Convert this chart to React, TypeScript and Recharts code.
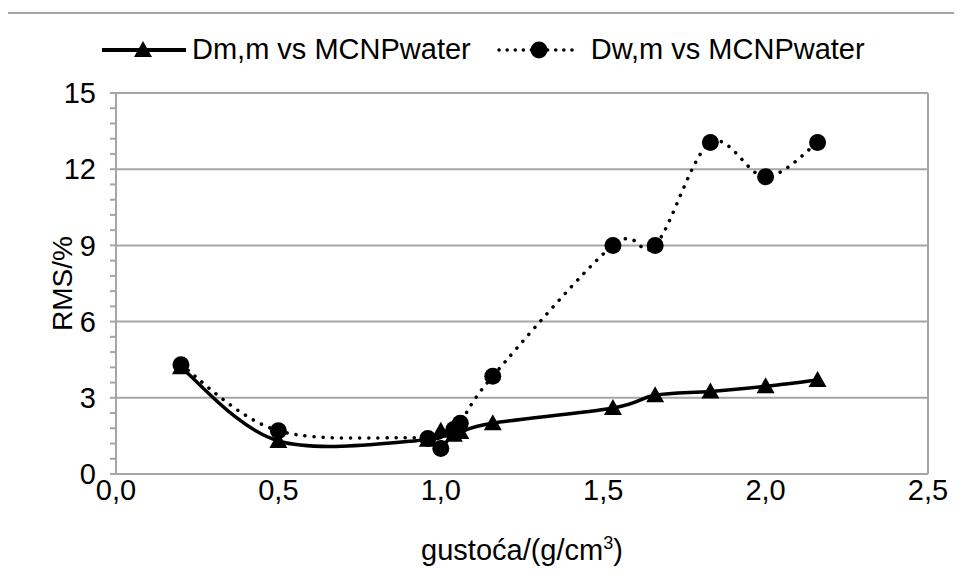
import { LineChart, Line, XAxis, YAxis, ReferenceLine } from 'recharts';

const density = [0.2, 0.5, 0.96, 1.0, 1.04, 1.06, 1.16, 1.53, 1.66, 1.83, 2.0, 2.16];
const dmmRms = [4.2, 1.3, 1.35, 1.7, 1.55, 1.65, 2.0, 2.6, 3.1, 3.25, 3.45, 3.7];
const dwmRms = [4.3, 1.7, 1.4, 1.0, 1.75, 2.0, 3.85, 9.0, 9.0, 13.05, 11.7, 13.05];

const xTicks = [0, 0.5, 1, 1.5, 2, 2.5];
const yTicks = [
  0, 0.6, 1.2, 1.8, 2.4, 3, 3.6, 4.2, 4.8, 5.4, 6, 6.6, 7.2, 7.8, 8.4, 9, 9.6, 10.2, 10.8, 11.4, 12,
  12.6, 13.2, 13.8, 14.4, 15,
];
const yMajor = [0, 3, 6, 9, 12, 15];

const data = density.map((d, i) => ({ d, dmm: dmmRms[i], dwm: dwmRms[i] }));

const FONT = '"Liberation Sans", Arial, sans-serif';
const GRID = '#a6a6a6';

// Excel-like smoothed line (Catmull-Rom through the points)
const excelSmooth = (context: any) => {
  let pts: [number, number][] = [];
  return {
    areaStart() {},
    areaEnd() {},
    lineStart() {
      pts = [];
    },
    point(x: number, y: number) {
      pts.push([+x, +y]);
    },
    lineEnd() {
      if (!pts.length) return;
      context.moveTo(pts[0][0], pts[0][1]);
      for (let i = 0; i < pts.length - 1; i++) {
        const p0 = pts[Math.max(i - 1, 0)];
        const p1 = pts[i];
        const p2 = pts[i + 1];
        const p3 = pts[Math.min(i + 2, pts.length - 1)];
        context.bezierCurveTo(
          p1[0] + (p2[0] - p0[0]) / 6,
          p1[1] + (p2[1] - p0[1]) / 6,
          p2[0] - (p3[0] - p1[0]) / 6,
          p2[1] - (p3[1] - p1[1]) / 6,
          p2[0],
          p2[1]
        );
      }
    },
  };
};

const Triangle = (props: any) => {
  const { cx, cy } = props;
  if (cx == null || cy == null) return null;
  return <path d={`M${cx},${cy - 9} L${cx + 9},${cy + 7} L${cx - 9},${cy + 7} Z`} fill="#000" />;
};

const Circle = (props: any) => {
  const { cx, cy } = props;
  if (cx == null || cy == null) return null;
  return <circle cx={cx} cy={cy} r={8.5} fill="#000" />;
};

const LegendBlock = () => (
  <div
    style={{
      position: 'absolute',
      left: 92,
      top: 25,
      display: 'flex',
      alignItems: 'center',
      fontFamily: FONT,
      fontSize: 29,
      color: '#000',
      whiteSpace: 'nowrap',
    }}
  >
    <svg width={88} height={24}>
      <line x1={2} y1={12} x2={86} y2={12} stroke="#000" strokeWidth={4} />
      <path d="M43,3 L52,19 L34,19 Z" fill="#000" />
    </svg>
    <span style={{ marginLeft: 4 }}>Dm,m vs MCNPwater</span>
    <svg width={88} height={24} style={{ marginLeft: 24 }}>
      <line x1={4} y1={12} x2={84} y2={12} stroke="#000" strokeWidth={3.5} strokeDasharray="0.1 8" strokeLinecap="round" />
      <circle cx={44} cy={12} r={8.5} fill="#000" />
    </svg>
    <span style={{ marginLeft: 8 }}>Dw,m vs MCNPwater</span>
  </div>
);

export default function App() {
  return (
    <div style={{ position: 'relative', width: 954, height: 574 }}>
      <style>{'body{overflow:hidden}'}</style>
      <div
        style={{
          position: 'absolute',
          left: -2,
          top: 4,
          width: 1000,
          height: 700,
          borderTop: `2px solid ${GRID}`,
          borderLeft: `2px solid ${GRID}`,
        }}
      />
      <LineChart
        width={954}
        height={574}
        data={data}
        margin={{ top: 85, right: 34, left: 40, bottom: 28 }}
        style={{ position: 'absolute', left: 0, top: 0 }}
      >
        {yMajor.map((v) => (
          <ReferenceLine key={v} y={v} stroke={GRID} strokeWidth={2} />
        ))}
        <ReferenceLine x={2.5} stroke={GRID} strokeWidth={2} />
        <XAxis
          dataKey="d"
          type="number"
          domain={[0, 2.5]}
          ticks={xTicks}
          tickFormatter={(v: number) => v.toFixed(1).replace('.', ',')}
          tickLine={false}
          tickSize={0}
          axisLine={{ stroke: GRID, strokeWidth: 2 }}
          tick={{ fill: '#000', fontSize: 29, fontFamily: FONT }}
          tickMargin={5}
          height={80}
          interval={0}
          label={{
            content: ({ viewBox }: any) => (
              <text
                x={viewBox.x + viewBox.width / 2}
                y={viewBox.y + 86}
                textAnchor="middle"
                fontFamily={FONT}
                fontSize={29}
                fill="#000"
              >
                gustoća/(g/cm<tspan fontSize={18} dy={-11}>3</tspan>
                <tspan dy={11}>)</tspan>
              </text>
            ),
          }}
        />
        <YAxis
          type="number"
          domain={[0, 15]}
          ticks={yTicks}
          interval={0}
          width={68}
          tickSize={6}
          tickMargin={14}
          tickLine={{ stroke: GRID, strokeWidth: 2 }}
          axisLine={{ stroke: GRID, strokeWidth: 2 }}
          tickFormatter={(v: number) => (yMajor.includes(v) ? String(v) : '')}
          tick={{ fill: '#000', fontSize: 29, fontFamily: FONT }}
          label={{
            content: ({ viewBox }: any) => (
              <text
                x={viewBox.x + 14}
                y={viewBox.y + viewBox.height / 2}
                textAnchor="middle"
                dominantBaseline="central"
                transform={`rotate(-90 ${viewBox.x + 14} ${viewBox.y + viewBox.height / 2})`}
                fontFamily={FONT}
                fontSize={28}
                fill="#000"
              >
                RMS/%
              </text>
            ),
          }}
        />
        <Line
          dataKey="dwm"
          type={excelSmooth as any}
          stroke="#000"
          strokeWidth={3.5}
          strokeDasharray="0.1 9"
          strokeLinecap="round"
          dot={<Circle />}
          activeDot={false}
          isAnimationActive={false}
        />
        <Line
          dataKey="dmm"
          type={excelSmooth as any}
          stroke="#000"
          strokeWidth={3.5}
          dot={<Triangle />}
          activeDot={false}
          isAnimationActive={false}
        />
      </LineChart>
      <LegendBlock />
    </div>
  );
}
